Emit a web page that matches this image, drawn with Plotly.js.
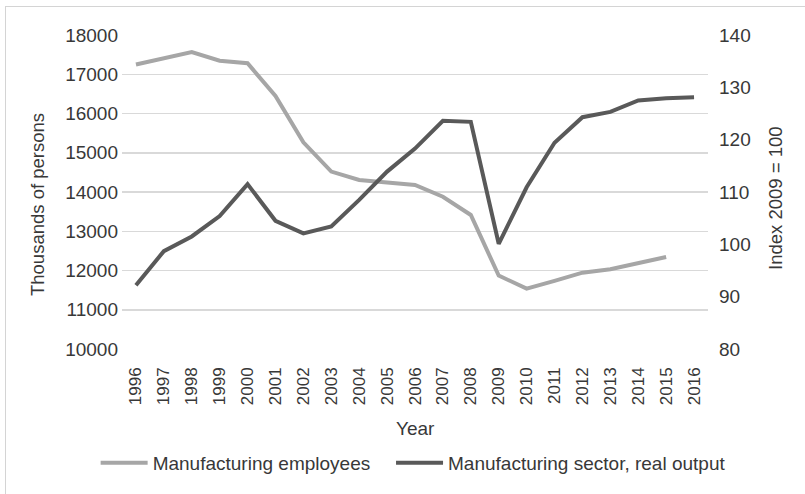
<!DOCTYPE html>
<html>
<head>
<meta charset="utf-8">
<script src="https://cdn.plot.ly/plotly-3.0.1.min.js"></script>
<style>
  html, body { margin: 0; padding: 0; background: #ffffff; }
  #wrap { position: relative; width: 805px; height: 494px; overflow: hidden; }
  #chart { width: 805px; height: 494px; }
  #frame { position: absolute; left: 5px; top: 6px; width: 900px; height: 600px;
           border-left: 1.5px solid #d4d4d4; border-top: 1.5px solid #d4d4d4; pointer-events: none; }
</style>
</head>
<body>
<div id="wrap">
  <div id="chart"></div>
  <div id="frame"></div>
</div>
<script>
const years = ["1996","1997","1998","1999","2000","2001","2002","2003","2004","2005","2006",
               "2007","2008","2009","2010","2011","2012","2013","2014","2015","2016"];

// Thousands of persons (left axis), no 2016 value
const employees = [17250, 17420, 17565, 17345, 17280, 16445, 15265, 14520, 14305, 14240, 14180,
                   13880, 13415, 11870, 11540, 11735, 11945, 12030, 12200, 12345, null];

// Index 2009 = 100 (right axis)
const realOutput = [92.2, 98.7, 101.5, 105.4, 111.5, 104.5, 102.1, 103.4, 108.5, 113.9, 118.3,
                    123.6, 123.4, 100.1, 110.9, 119.4, 124.3, 125.3, 127.5, 127.9, 128.1];

const leftTicks = [10000, 11000, 12000, 13000, 14000, 15000, 16000, 17000, 18000];
const rightTicks = [80, 90, 100, 110, 120, 130, 140];

const seriesNames = ["Manufacturing employees", "Manufacturing sector, real output"];
const axisTitles = ["Year", "Thousands of persons", "Index 2009 = 100"];

const txt = "#383838";
const fam = "Liberation Sans, Arial, sans-serif";
const font = { family: fam, size: 19, color: txt };
const titleFont = { family: fam, size: 18.5, color: txt };
const tickFontX = { family: fam, size: 17, color: txt };
const legendPad = "\u00a0\u00a0\u00a0";

const traces = [
  { x: years, y: employees, name: seriesNames[0] + legendPad, type: "scatter", mode: "lines",
    line: { color: "#a6a6a6", width: 4 }, yaxis: "y", connectgaps: false },
  { x: years, y: realOutput, name: seriesNames[1], type: "scatter", mode: "lines",
    line: { color: "#595959", width: 4 }, yaxis: "y2" }
];

const layout = {
  width: 805, height: 494,
  margin: { l: 122, r: 97, t: 35, b: 145 },
  paper_bgcolor: "rgba(0,0,0,0)", plot_bgcolor: "#ffffff",
  font: font,
  showlegend: true,
  legend: { orientation: "h", x: -0.045, xanchor: "left", y: -0.363, yanchor: "middle",
            font: font, traceorder: "normal", itemwidth: 47 },
  xaxis: {
    type: "category", categoryarray: years, range: [-0.5, 20.5], automargin: false,
    tickangle: -90, tickfont: tickFontX, showgrid: false, zeroline: false, showline: false,
    ticks: "", ticklabelstandoff: 14
  },
  yaxis: {
    range: [10000, 18000], tickvals: leftTicks, ticktext: leftTicks.map(String), automargin: false,
    showgrid: true, gridcolor: "#d9d9d9", gridwidth: 1.5, zeroline: false, showline: false,
    ticks: "", tickfont: font, ticklabelstandoff: 3
  },
  yaxis2: {
    overlaying: "y", side: "right", range: [80, 140], tickvals: rightTicks, automargin: false,
    showgrid: false, zeroline: false, showline: false, ticks: "", tickfont: font,
    ticklabelstandoff: 10
  },
  annotations: [
    { text: axisTitles[0], xref: "paper", yref: "paper", x: 0.5, y: -0.2516,
      xanchor: "center", yanchor: "middle", showarrow: false, font: font },
    { text: axisTitles[1], xref: "paper", yref: "paper", x: -0.1433, y: 0.4586, textangle: -90,
      xanchor: "center", yanchor: "middle", showarrow: false, font: titleFont },
    { text: axisTitles[2], xref: "paper", yref: "paper", x: 1.116, y: 0.481, textangle: -90,
      xanchor: "center", yanchor: "middle", showarrow: false, font: titleFont }
  ]
};

Plotly.newPlot("chart", traces, layout, { displayModeBar: false, staticPlot: true });
</script>
</body>
</html>
